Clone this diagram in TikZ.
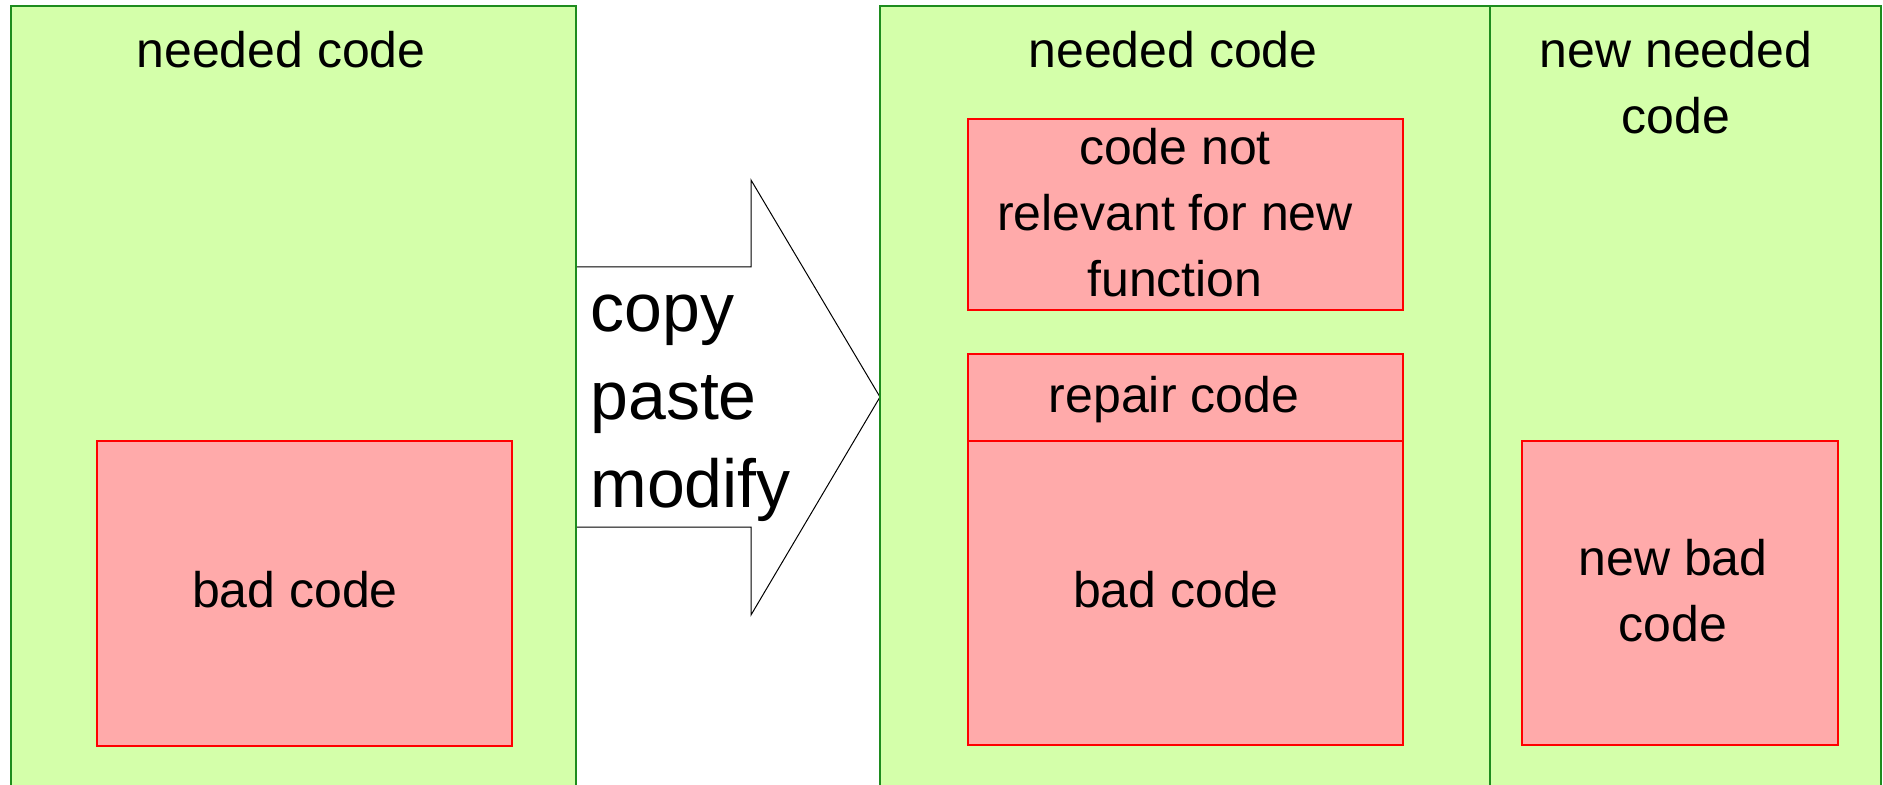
\documentclass[tikz,border=0pt]{standalone}
\usepackage{fontspec}
\setmainfont{Liberation Sans}
\definecolor{goodfill}{RGB}{212,255,170}
\definecolor{goodline}{RGB}{30,140,30}
\definecolor{badfill}{RGB}{255,170,170}
\definecolor{badline}{RGB}{255,0,0}

\begin{document}
\begin{tikzpicture}[x=0.5pt,y=-0.5pt,
  good/.style={fill=goodfill,draw=goodline,line width=0.6pt},
  bad/.style={fill=badfill,draw=badline,line width=0.6pt},
  lbl/.style={inner sep=0pt,align=center,font=\fontsize{25}{33}\selectfont}]
\useasboundingbox (0,0) rectangle (1883,785);
\clip (0,0) rectangle (1883,785);
% arrow
\draw[fill=white,line width=0.5pt] (576,267) -- (751,267) -- (751,180) -- (880,397)
  -- (751,615) -- (751,527) -- (576,527) -- cycle;
\node[inner sep=0pt,anchor=west,align=left,font=\fontsize{34}{44}\selectfont] (cpm)
  at (590,408) {copy\\paste\\modify};
% old function
\draw[good] (11,6) rectangle (576,800);
\draw[bad] (97,441) rectangle (512,746);
\node[lbl] (oldneeded) at (281,49.6) {needed code};
\node[lbl] (oldbad) at (295,590) {bad code};
% new function
\draw[good] (880,6) rectangle (1490,800)
            (1490,6) rectangle (1881,800);
\draw[bad] (968,119) rectangle (1403,310)
           (968,354) rectangle (1403,441)
           (968,441) rectangle (1403,745)
           (1522,441) rectangle (1838,745);
\node[lbl] (needed) at (1173,49.6) {needed code};
\node[lbl] (notrel) at (1175,212.9) {code not\\relevant for new\\function};
\node[lbl] (repair) at (1174,399.9) {repair code};
\node[lbl] (bad) at (1176,590) {bad code};
\node[lbl] (newneeded) at (1676,82.2) {new needed\\code};
\node[lbl] (newbad) at (1673,590.6) {new bad\\code};
\end{tikzpicture}
\end{document}
